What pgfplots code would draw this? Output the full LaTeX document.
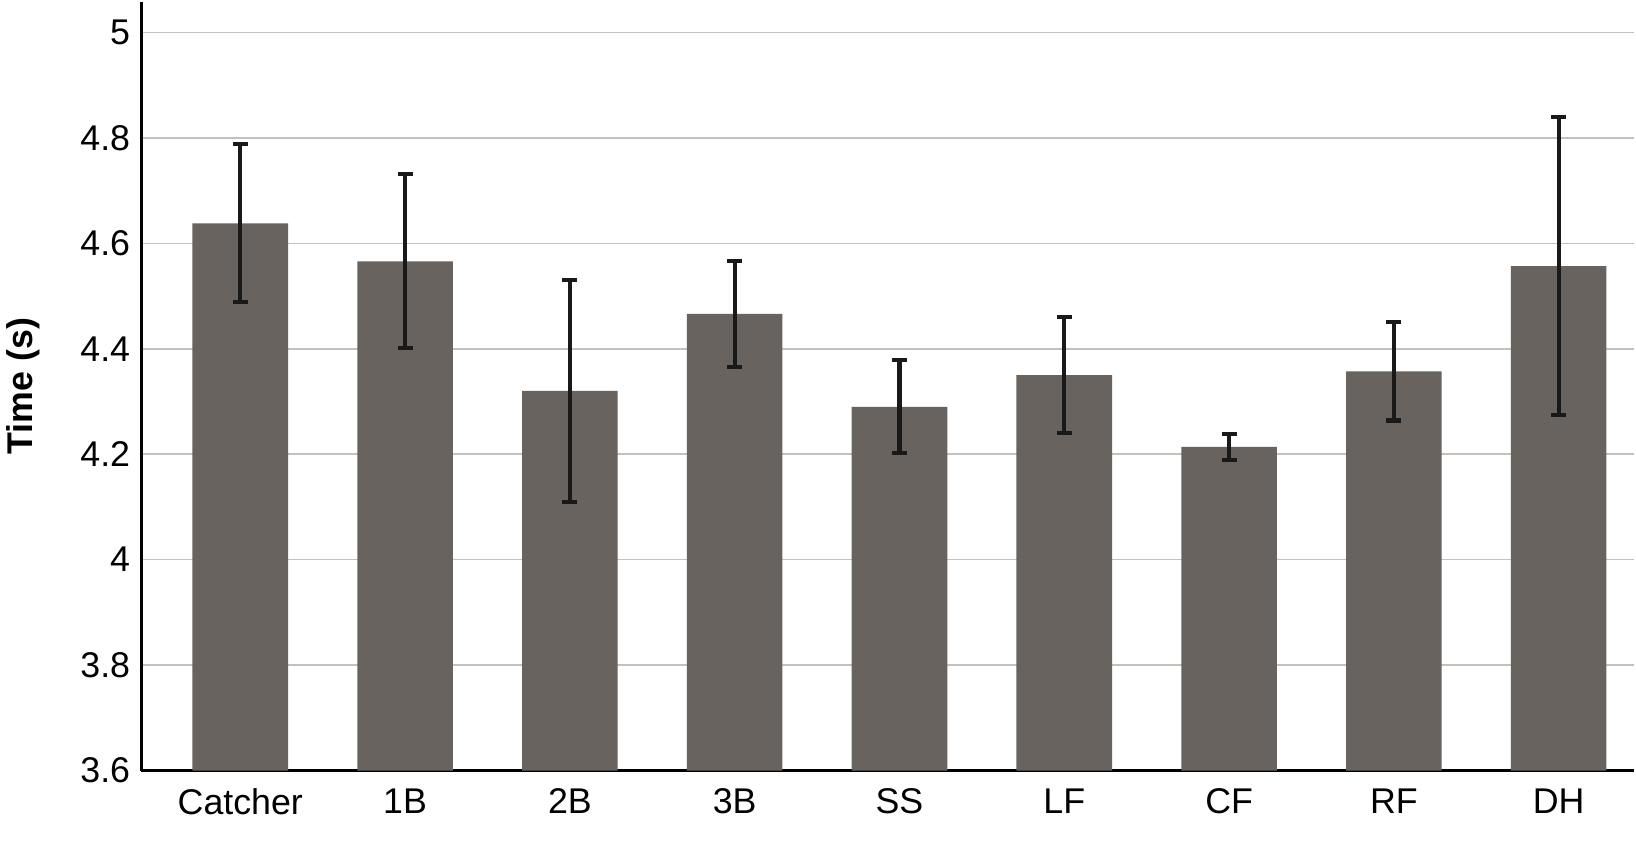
\documentclass[border=0pt]{standalone}
\usepackage{pgfplots}
\pgfplotsset{compat=1.18}
\usepackage{fontspec}
\setmainfont{Liberation Sans}
\definecolor{barc}{HTML}{68635F}
\definecolor{gridc}{HTML}{C4C1BC}
\begin{document}
\begin{tikzpicture}
\begin{axis}[
  name=ax,
  scale only axis, width=731pt, height=376.5pt,
  xmin=-0.6, xmax=8.46, ymin=3.6, ymax=5.0587,
  ytick={3.6,3.8,4,4.2,4.4,4.6,4.8,5},
  yticklabels={3.6,3.8,4,4.2,4.4,4.6,4.8,5},
  xtick={0,...,8},
  xticklabels={Catcher,1B,2B,3B,SS,LF,CF,RF,DH},
  axis x line*=bottom, axis y line*=left,
  axis line style={line width=1.5pt, -},
  ymajorgrids, grid style={gridc, line width=0.8pt},
  major tick length=0pt,
  tick label style={font=\fontsize{17.5}{20}\selectfont},
  yticklabel style={xshift=-2pt},
  xticklabel style={yshift=-5.5pt},
  ylabel={\textbf{Time (s)}},
  ylabel style={font=\fontsize{17.5}{20}\selectfont, at={(axis description cs:-0.063,0.5)}, anchor=south},
  bar width=0.58,
  ybar,
]
\addplot[fill=barc, draw=none,
  error bars/.cd, y dir=both, y explicit,
  error bar style={line width=2pt, black!90},
  error mark options={rotate=90, line width=2pt, mark size=3.7pt, black!90}]
  table[x=x, y=y, y error=e] {
x y e
0 4.638 0.150
1 4.566 0.165
2 4.320 0.210
3 4.466 0.100
4 4.290 0.088
5 4.350 0.110
6 4.214 0.025
7 4.357 0.093
8 4.557 0.283
};
\end{axis}
\path ([xshift=-69pt, yshift=-36.2pt]ax.south west) rectangle ([yshift=0pt]ax.north east);
\end{tikzpicture}
\end{document}
